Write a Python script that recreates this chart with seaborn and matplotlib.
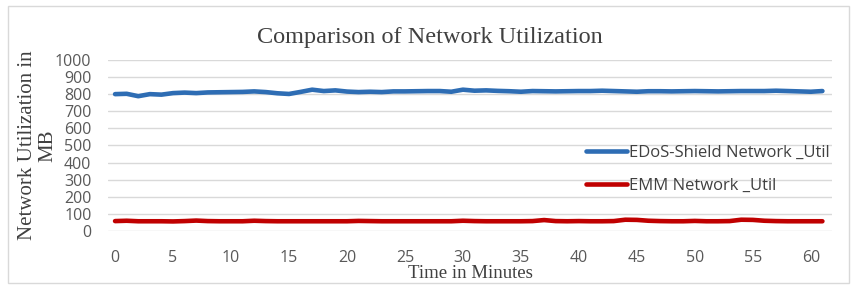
import pandas as pd
import seaborn as sns
import matplotlib.pyplot as plt
from matplotlib.patches import Rectangle

minutes = list(range(62))

edos_util = [800, 802, 788, 800, 797, 806, 809, 806, 810, 811,
             812, 813, 816, 812, 805, 801, 813, 826, 818, 822,
             815, 812, 814, 812, 816, 816, 817, 818, 818, 814,
             826, 820, 822, 819, 817, 814, 818, 817, 816, 817,
             818, 818, 820, 818, 816, 814, 817, 817, 816, 817,
             818, 817, 816, 817, 818, 818, 818, 820, 818, 816,
             814, 818]

emm_util = [58, 60, 57, 57, 57, 56, 58, 61, 58, 57,
            57, 57, 60, 58, 57, 57, 57, 57, 57, 57,
            57, 59, 58, 57, 57, 57, 57, 57, 57, 57,
            60, 58, 57, 57, 57, 57, 58, 64, 58, 57,
            58, 57, 57, 58, 66, 65, 60, 58, 57, 57,
            59, 57, 57, 58, 66, 65, 60, 58, 57, 57,
            57, 57]

series_names = ['EDoS-Shield Network _Util', 'EMM Network _Util']
series_colors = ['#2E6DB4', '#C00000']

df = pd.DataFrame({
    'minute': minutes * 2,
    'util': edos_util + emm_util,
    'series': [series_names[0]] * len(minutes) + [series_names[1]] * len(minutes),
})

sns.set_style('white')
plt.rcParams['font.family'] = ['Open Sans', 'DejaVu Sans']

fig = plt.figure(figsize=(8.58, 2.9), dpi=100)
ax = fig.add_axes([0.126, 0.2034, 0.844, 0.59])

sns.lineplot(data=df, x='minute', y='util', hue='series',
             palette=series_colors, linewidth=3.3, ax=ax)

ax.set_xlim(-0.6, 61.85)
ax.set_ylim(0, 1000)
ax.set_xticks(range(0, 61, 5))
ax.set_yticks(range(0, 1001, 100))
ax.grid(axis='y', color='#d9d9d9', linewidth=1)
ax.set_axisbelow(True)
for s in ax.spines.values():
    s.set_visible(False)
ax.tick_params(axis='both', labelsize=11.5, colors='#595959', length=0)
ax.tick_params(axis='x', pad=14)
ax.tick_params(axis='y', pad=12)

ax.set_xlabel('Time in Minutes', family='Liberation Serif', fontsize=13.5,
              color='#404040', labelpad=-1)
ax.set_ylabel('Network Utilization in\nMB', family='Liberation Serif',
              fontsize=15, color='#404040', linespacing=1.1, labelpad=-2)
fig.text(0.501, 0.872, 'Comparison of Network Utilization',
         family='Liberation Serif', fontsize=17.5, color='#404040',
         ha='center', va='center')

leg = ax.legend(loc='center left', bbox_to_anchor=(0.665, 0.415),
                bbox_transform=fig.transFigure, frameon=False,
                fontsize=12, handlelength=2.5, handletextpad=0.1,
                labelspacing=1.0)
for t in leg.get_texts():
    t.set_color('#404040')

fig.patches.append(Rectangle((0.009, 0.024), 0.98, 0.955,
                             transform=fig.transFigure, fill=False,
                             edgecolor='#d9d9d9', linewidth=1))

fig.savefig('out.png', dpi=100)
